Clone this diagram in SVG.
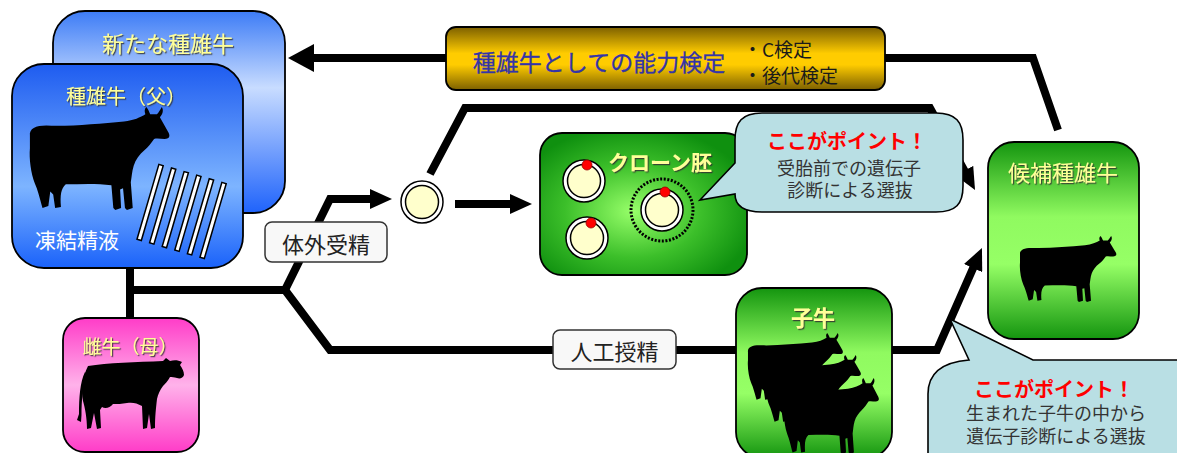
<svg xmlns="http://www.w3.org/2000/svg" width="1177" height="453" viewBox="0 0 1177 453">
<defs>
  <linearGradient id="gBack" x1="0" y1="0" x2="0" y2="1">
    <stop offset="0" stop-color="#3d7cf6"/>
    <stop offset="0.38" stop-color="#c8dcff"/>
    <stop offset="1" stop-color="#1f63fb"/>
  </linearGradient>
  <linearGradient id="gFront" x1="0" y1="0" x2="0" y2="1">
    <stop offset="0" stop-color="#1e5cf0"/>
    <stop offset="0.6" stop-color="#7db4ff"/>
    <stop offset="1" stop-color="#1a62fa"/>
  </linearGradient>
  <linearGradient id="gPink" x1="0" y1="0" x2="0" y2="1">
    <stop offset="0" stop-color="#ff3cc8"/>
    <stop offset="0.5" stop-color="#ffb2ea"/>
    <stop offset="1" stop-color="#ff3cc8"/>
  </linearGradient>
  <linearGradient id="gGreen" x1="0" y1="0" x2="0" y2="1">
    <stop offset="0" stop-color="#14950f"/>
    <stop offset="0.38" stop-color="#90fa60"/>
    <stop offset="0.62" stop-color="#96ff66"/>
    <stop offset="1" stop-color="#14950f"/>
  </linearGradient>
  <radialGradient id="gClone" cx="0.45" cy="0.55" r="0.6">
    <stop offset="0" stop-color="#98ff6a"/>
    <stop offset="0.55" stop-color="#3cbf2a"/>
    <stop offset="1" stop-color="#0f900f"/>
  </radialGradient>
  <linearGradient id="gGold" x1="0" y1="0" x2="0" y2="1">
    <stop offset="0" stop-color="#7d6000"/>
    <stop offset="0.42" stop-color="#ffcc00"/>
    <stop offset="0.6" stop-color="#ffcc00"/>
    <stop offset="1" stop-color="#7d6000"/>
  </linearGradient>
  <filter id="sh" x="-10%" y="-20%" width="120%" height="150%">
    <feDropShadow dx="1.2" dy="1.2" stdDeviation="0.5" flood-color="#303030" flood-opacity="0.85"/>
  </filter>
  <marker id="head" viewBox="0 0 22 20" refX="8" refY="10" markerWidth="22" markerHeight="20" markerUnits="userSpaceOnUse" orient="auto">
    <path d="M0,0 L22,10 L0,20 z" fill="#000"/>
  </marker>
  <marker id="headL" viewBox="0 0 26 28" refX="10" refY="14" markerWidth="26" markerHeight="28" markerUnits="userSpaceOnUse" orient="auto">
    <path d="M0,0 L26,14 L0,28 z" fill="#000"/>
  </marker>
  <!-- bull silhouette, facing right, about 150 x 100 -->
  <path id="bull" d="M3,28 C2,21 9,18 20,18 C45,19 75,16 100,14 C110,13 117,10 122,7 C121,4 121,2 123,0 C125,2 126,5 127,7 L134,7 C136,5 137,3 139,0 C141,3 140,7 137,10 C140,15 143,20 146,25 C148,29 146,31 142,31 C138,31 134,30 131,31 C128,35 125,39 121,42 C116,46 112,51 110,57 C108,63 108,68 107,73 L109,98 L103,100 L101,98 L99,79 L96,80 L97,98 L91,100 L89,98 L87,76 C72,74 55,75 40,75 C35,79 34,86 35,97 L29,98 L27,85 L24,82 L22,96 L16,98 L15,95 C13,88 11,80 8,74 C4,64 2,50 3,40 Z"/>
  <!-- dairy cow silhouette, facing right, about 108 x 72 -->
  <g id="cow">
    <path d="M11,8 C30,5 60,4 86,3 L89,0 L93,3 C97,2 101,2 105,4 L103,7 C105,10 107,13 107,17 C106,20 103,21 100,20 C97,19 95,19 93,19 C91,23 88,26 86,28 C83,32 81,36 80,41 C79,50 78,58 78,70 L74,71 L72,56 L70,70 L66,71 L65,48 C60,45 55,44 50,45 C45,46 40,46 36,46 C33,50 28,51 25,49 L23,52 L24,70 L20,71 L17,55 L14,70 L10,71 C10,60 8,50 6,43 C4,33 5,20 11,8 Z"/>
    <path d="M8,14 C3,24 2,40 2,56 L0,62 L4,64 L4.5,57 C4.5,42 6,26 10,16 Z"/>
  </g>
</defs>
<style>
  .box{stroke:#000;stroke-width:1.8}
  .conn{fill:none;stroke:#000;stroke-width:8;stroke-linejoin:miter}
  text{font-family:"Noto Sans CJK JP","Noto Sans CJK SC",sans-serif;dominant-baseline:central}
  .ttl{fill:#ffff99;filter:url(#sh);text-anchor:middle}
  .tag{fill:#f8f8f8;stroke:#333;stroke-width:1.5}
  .tagtxt{fill:#222;font-size:22px;text-anchor:middle}
  .balloon{fill:#b9dfe4;stroke:#000;stroke-width:1.6}
  .point{fill:#ff0000;font-weight:bold;font-size:20px;text-anchor:middle}
  .note{fill:#333;font-size:18px;text-anchor:middle}
  .egg-o{fill:#fff;stroke:#000;stroke-width:1.5}
  .egg-i{fill:#ffffcc;stroke:#000;stroke-width:1.5}
  .dot{fill:#ff0000;stroke:#900;stroke-width:0.8}
  .straw{fill:#fff;stroke:#000;stroke-width:1.5}
</style>

<!-- connectors -->
<g id="connectors">
  <path class="conn" d="M1058,130 L1033,58 H304" stroke-width="9" marker-end="url(#headL)"/>
  <path class="conn" d="M130,266 V320"/>
  <path class="conn" d="M130,290 H285 L330,199 H378" marker-end="url(#head)"/>
  <path class="conn" d="M285,290 L330,350 H937 L976.3,260.8" marker-end="url(#head)"/>
  <path class="conn" d="M430,174 L465,108 H930 L968.3,177.7" stroke-width="7.5" marker-end="url(#head)"/>
  <path class="conn" d="M455,204 H518" stroke-width="7.5" marker-end="url(#head)"/>
</g>

<!-- new sire -->
<g id="new-sire">
  <rect class="box" x="53" y="11" width="232" height="202" rx="32" fill="url(#gBack)"/>
  <text class="ttl" x="168" y="42" font-size="22">新たな種雄牛</text>
</g>

<!-- sire with frozen semen -->
<g id="sire">
  <rect class="box" x="12" y="64" width="231" height="204" rx="32" fill="url(#gFront)"/>
  <text class="ttl" x="126" y="95" font-size="20">種雄牛（父）</text>
  <use href="#bull" transform="translate(27,107) scale(0.97,1.03)"/>
  <g id="straws">
    <rect class="straw" x="-2.2" y="0" width="4.5" height="78" transform="translate(161,165) rotate(16.3)"/>
    <rect class="straw" x="-2.2" y="0" width="4.5" height="78" transform="translate(173.6,168.6) rotate(16.3)"/>
    <rect class="straw" x="-2.2" y="0" width="4.5" height="78" transform="translate(186.2,172.2) rotate(16.3)"/>
    <rect class="straw" x="-2.2" y="0" width="4.5" height="78" transform="translate(198.8,175.8) rotate(16.3)"/>
    <rect class="straw" x="-2.2" y="0" width="4.5" height="78" transform="translate(211.4,179.4) rotate(16.3)"/>
    <rect class="straw" x="-2.2" y="0" width="4.5" height="78" transform="translate(224,183) rotate(16.3)"/>
  </g>
  <text x="77" y="239" font-size="21" fill="#fff" text-anchor="middle">凍結精液</text>
</g>

<!-- dam -->
<g id="dam">
  <rect class="box" x="63" y="318" width="136" height="134" rx="22" fill="url(#gPink)"/>
  <text class="ttl" x="130" y="345" font-size="19">雌牛（母）</text>
  <use href="#cow" transform="translate(77,358)"/>
</g>

<!-- performance test -->
<g id="test">
  <rect class="box" x="446" y="27" width="439" height="63" rx="10" fill="url(#gGold)"/>
  <text x="599" y="61" font-size="23" fill="#3434a8" stroke="#3434a8" stroke-width="0.3" text-anchor="middle">種雄牛としての能力検定</text>
  <text x="743" y="48" font-size="19" fill="#1a1a1a">・C検定</text>
  <text x="743" y="74" font-size="19" fill="#1a1a1a">・後代検定</text>
</g>

<!-- in vitro fertilisation -->
<g id="ivf">
  <rect class="tag" x="265" y="222" width="122" height="40" rx="7"/>
  <text class="tagtxt" x="326" y="243">体外受精</text>
</g>

<!-- artificial insemination -->
<g id="ai">
  <rect class="tag" x="553" y="330" width="123" height="39" rx="7"/>
  <text class="tagtxt" x="614.5" y="350">人工授精</text>
</g>

<!-- fertilised egg -->
<g id="egg">
  <circle class="egg-o" cx="422" cy="202" r="21"/>
  <circle class="egg-i" cx="422" cy="202" r="16.5"/>
</g>

<!-- clone embryos -->
<g id="clone">
  <rect class="box" x="540" y="133" width="207" height="142" rx="22" fill="url(#gClone)"/>
  <text class="ttl" x="660" y="161" font-size="21" font-weight="bold">クローン胚</text>
  <circle class="egg-o" cx="584" cy="181" r="21"/>
  <circle class="egg-i" cx="584" cy="181" r="16.5"/>
  <circle class="dot" cx="587" cy="165" r="5"/>
  <circle class="egg-o" cx="587" cy="238" r="21"/>
  <circle class="egg-i" cx="587" cy="238" r="16.5"/>
  <circle class="dot" cx="591" cy="223" r="5"/>
  <circle cx="662" cy="210" r="31" fill="none" stroke="#000" stroke-width="3" stroke-dasharray="2 1.6"/>
  <circle class="egg-o" cx="662" cy="210" r="21"/>
  <circle class="egg-i" cx="662" cy="210" r="16.5"/>
  <circle class="dot" cx="665" cy="192" r="5"/>
</g>

<!-- note: selection before pregnancy -->
<g id="note-embryo">
  <path class="balloon" d="M762,113 H936 C956,113 963,122 963,140 V186 C963,204 956,212 936,212 H762 C742,212 735,204 735,194 L700,200 L735,163 V140 C735,122 742,113 762,113 Z"/>
  <text class="point" x="847" y="140">ここがポイント！</text>
  <text class="note" x="849" y="167">受胎前での遺伝子</text>
  <text class="note" x="850" y="189">診断による選抜</text>
</g>

<!-- candidate sire -->
<g id="candidate">
  <rect class="box" x="988" y="142" width="151" height="197" rx="26" fill="url(#gGreen)"/>
  <text class="ttl" x="1063" y="171" font-size="22">候補種雄牛</text>
  <use href="#bull" transform="translate(1018,236) scale(0.67,0.66)"/>
</g>

<!-- calves -->
<g id="calves">
  <rect class="box" x="736" y="288" width="156" height="170" rx="26" fill="url(#gGreen)"/>
  <text class="ttl" x="813" y="316" font-size="22" font-weight="bold">子牛</text>
  <use href="#bull" transform="translate(746,333) scale(0.66,0.68)"/>
  <use href="#bull" transform="translate(764,355) scale(0.66,0.68)"/>
  <use href="#bull" transform="translate(782,378) scale(0.66,0.76)"/>
</g>

<!-- note: selection among calves -->
<g id="note-calf">
  <path class="balloon" d="M928,460 V394 C928,372 944,362 969,360 L950,319 L1033,360 H1185 V460 Z"/>
  <text class="point" x="1054" y="388">ここがポイント！</text>
  <text class="note" x="1056" y="412">生まれた子牛の中から</text>
  <text class="note" x="1056" y="435">遺伝子診断による選抜</text>
</g>
</svg>
